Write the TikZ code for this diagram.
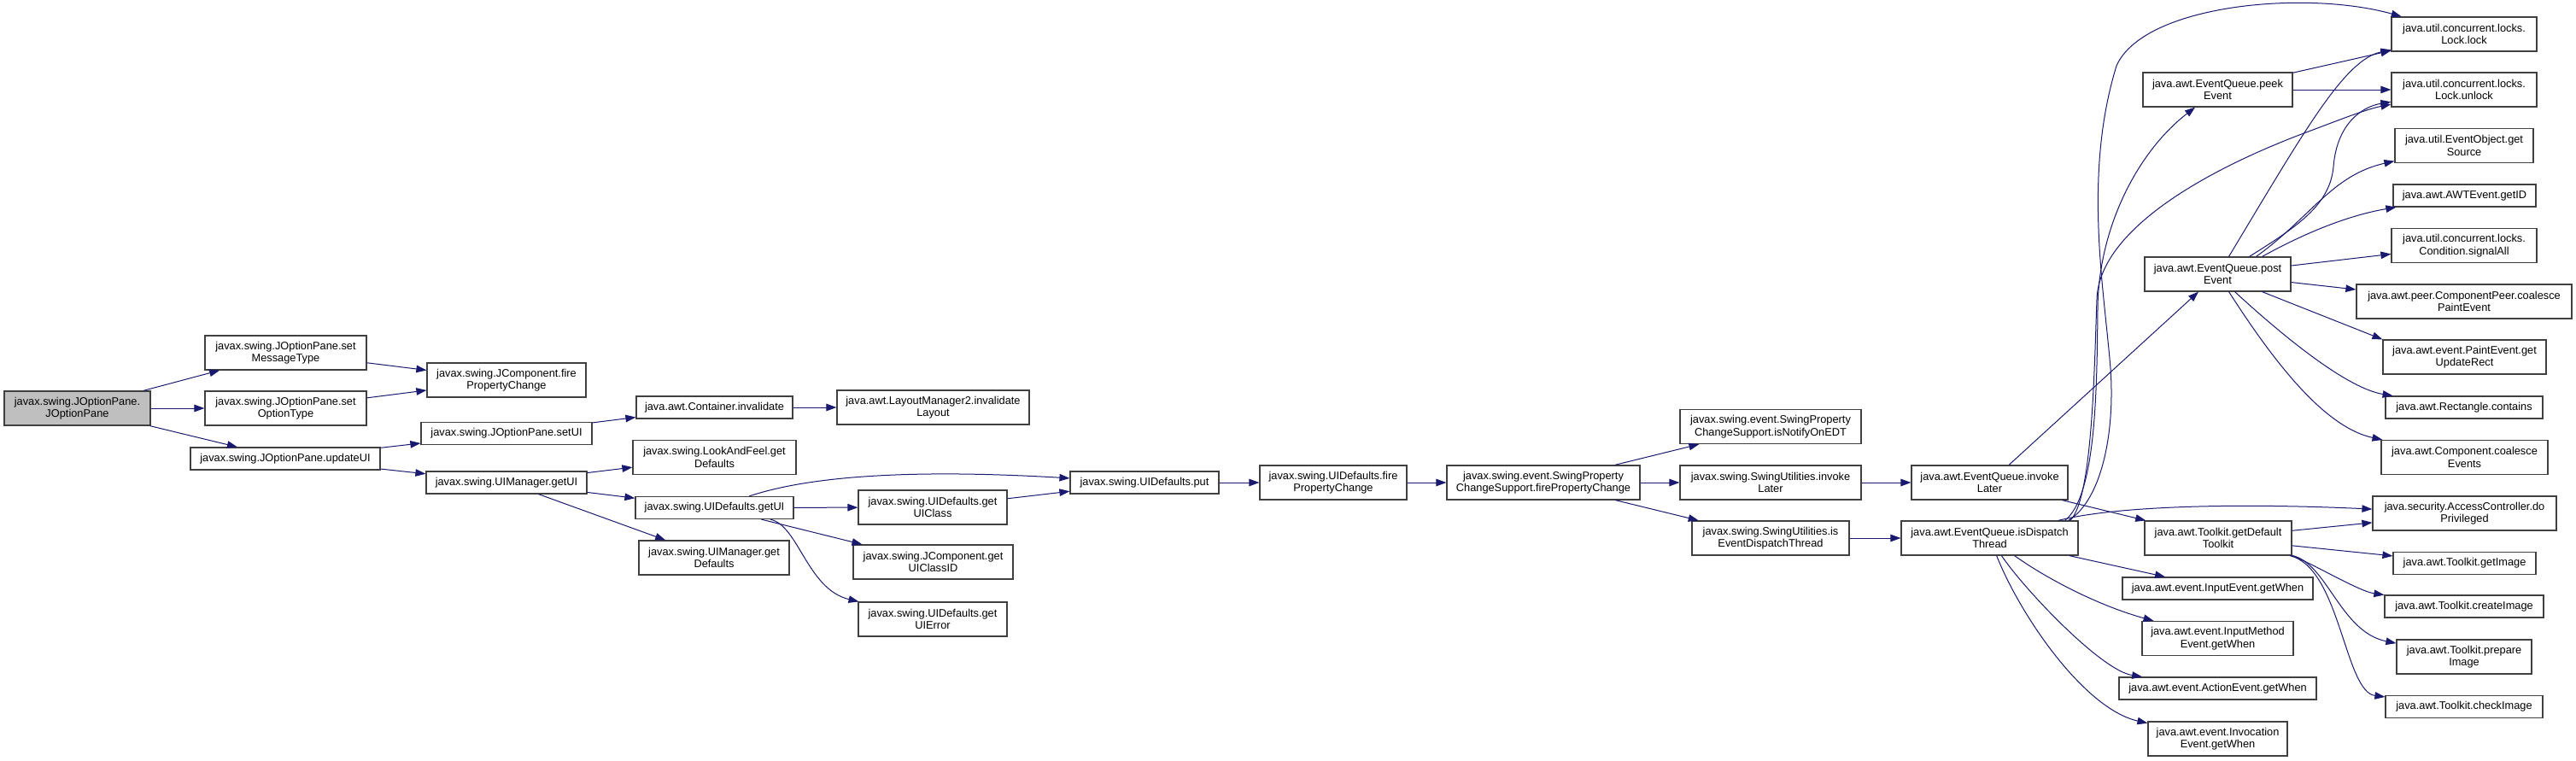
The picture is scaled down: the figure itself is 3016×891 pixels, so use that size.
\documentclass[tikz,border=0pt]{standalone}
\usepackage{fontspec}
\setmainfont{Liberation Sans}
\usetikzlibrary{arrows.meta}
\definecolor{edgeblue}{HTML}{191970}
\definecolor{rootgray}{HTML}{BFBFBF}

\begin{document}
\begin{tikzpicture}[x=1pt, y=-1pt,
		fn/.style={draw=black!75, line width=1.2pt, fill=white, align=center, inner sep=0pt,
			minimum height=26pt, font=\fontsize{12.8}{14.5}\selectfont},
		fnii/.style={fn, minimum height=40pt},
		call/.style={draw=edgeblue, line width=1pt, -{Triangle[length=12pt, width=8.5pt]}}]
		\useasboundingbox (0,0) rectangle (3016,891);
		\fill[white] (0,0) rectangle (3016,891);
		\node[fnii, fill=rootgray, minimum width=171pt] (root) at (90.5,478) {javax.swing.JOptionPane.\\JOptionPane};
		\node[fnii, minimum width=189pt] (msgtype)  at (334.5,413) {javax.swing.JOptionPane.set\\MessageType};
		\node[fnii, minimum width=189pt] (opttype)  at (334.5,478) {javax.swing.JOptionPane.set\\OptionType};
		\node[fn,   minimum width=222pt] (updui)    at (334,537)   {javax.swing.JOptionPane.updateUI};
		\node[fnii, minimum width=186pt] (jcfire)   at (593,445)   {javax.swing.JComponent.fire\\PropertyChange};
		\node[fn,   minimum width=200pt] (setui)    at (593,507.5) {javax.swing.JOptionPane.setUI};
		\node[fn,   minimum width=188pt] (uimgetui) at (593,565)   {javax.swing.UIManager.getUI};
		\node[fn,   minimum width=183pt] (continv)  at (836.5,477) {java.awt.Container.invalidate};
		\node[fnii, minimum width=225pt] (layoutinv) at (1092.5,477) {java.awt.LayoutManager2.invalidate\\Layout};
		\node[fnii, minimum width=191pt] (lafdef)   at (836.5,535.5) {javax.swing.LookAndFeel.get\\Defaults};
		\node[fn,   minimum width=185pt] (uidgetui) at (836.5,594.5) {javax.swing.UIDefaults.getUI};
		\node[fnii, minimum width=176pt] (uimdef)   at (836,653)   {javax.swing.UIManager.get\\Defaults};
		\node[fnii, minimum width=174pt] (getuiclass)   at (1092,594)   {javax.swing.UIDefaults.get\\UIClass};
		\node[fnii, minimum width=187pt] (getuiclassid) at (1092.5,658) {javax.swing.JComponent.get\\UIClassID};
		\node[fnii, minimum width=174pt] (getuierror)   at (1092,725)   {javax.swing.UIDefaults.get\\UIError};
		\node[fn,   minimum width=174pt] (put)      at (1340,565)  {javax.swing.UIDefaults.put};
		\node[fnii, minimum width=172pt] (uidfire)  at (1561,565)  {javax.swing.UIDefaults.fire\\PropertyChange};
		\node[fnii, minimum width=226pt] (spcsfire) at (1807,565)  {javax.swing.event.SwingProperty\\ChangeSupport.firePropertyChange};
		\node[fnii, minimum width=212pt] (notifyedt) at (2073,499.5) {javax.swing.event.SwingProperty\\ChangeSupport.isNotifyOnEDT};
		\node[fnii, minimum width=212pt] (suinvoke) at (2073,565)  {javax.swing.SwingUtilities.invoke\\Later};
		\node[fnii, minimum width=184pt] (suisedt)  at (2073,630)  {javax.swing.SwingUtilities.is\\EventDispatchThread};
		\node[fnii, minimum width=183pt] (eqinvoke) at (2329.5,565) {java.awt.EventQueue.invoke\\Later};
		\node[fnii, minimum width=207pt] (eqisdt)   at (2329.5,630) {java.awt.EventQueue.isDispatch\\Thread};
		\node[fnii, minimum width=175pt] (peek)     at (2596.5,105) {java.awt.EventQueue.peek\\Event};
		\node[fnii, minimum width=171pt] (post)     at (2596.5,321) {java.awt.EventQueue.post\\Event};
		\node[fnii, minimum width=172pt] (deftk)    at (2597,630)   {java.awt.Toolkit.getDefault\\Toolkit};
		\node[fn,   minimum width=223pt] (inputwhen) at (2596.5,689) {java.awt.event.InputEvent.getWhen};
		\node[fnii, minimum width=177pt] (imwhen)   at (2596.5,747.5) {java.awt.event.InputMethod\\Event.getWhen};
		\node[fn,   minimum width=231pt] (actwhen)  at (2596.5,806) {java.awt.event.ActionEvent.getWhen};
		\node[fnii, minimum width=163pt] (invwhen)  at (2596.5,865) {java.awt.event.Invocation\\Event.getWhen};
		\node[fnii, minimum width=170pt] (lock)     at (2885,40)    {java.util.concurrent.locks.\\Lock.lock};
		\node[fnii, minimum width=170pt] (unlock)   at (2885,105)   {java.util.concurrent.locks.\\Lock.unlock};
		\node[fnii, minimum width=162pt] (getsource) at (2885,170.5) {java.util.EventObject.get\\Source};
		\node[fn,   minimum width=167pt] (getid)    at (2885.5,229) {java.awt.AWTEvent.getID};
		\node[fnii, minimum width=170pt] (signalall) at (2885,287.5) {java.util.concurrent.locks.\\Condition.signalAll};
		\node[fnii, minimum width=252pt] (coalpaint) at (2885,353)  {java.awt.peer.ComponentPeer.coalesce\\PaintEvent};
		\node[fnii, minimum width=191pt] (updrect)  at (2885.5,418) {java.awt.event.PaintEvent.get\\UpdateRect};
		\node[fn,   minimum width=184pt] (contains) at (2885,477)   {java.awt.Rectangle.contains};
		\node[fnii, minimum width=195pt] (coalev)   at (2885.5,535.5) {java.awt.Component.coalesce\\Events};
		\node[fnii, minimum width=215pt] (doprivileged) at (2885.5,601) {java.security.AccessController.do\\Privileged};
		\node[fn,   minimum width=167pt] (getimage) at (2885.5,659.5) {java.awt.Toolkit.getImage};
		\node[fn,   minimum width=186pt] (createimage) at (2885,710) {java.awt.Toolkit.createImage};
		\node[fnii, minimum width=158pt] (prepareimage) at (2885,769) {java.awt.Toolkit.prepare\\Image};
		\node[fn,   minimum width=184pt] (checkimage) at (2885,827.5) {java.awt.Toolkit.checkImage};
		\draw[call] (root) -- (msgtype);
		\draw[call] (root) -- (opttype);
		\draw[call] (root) -- (updui);
		\draw[call] (msgtype) -- (jcfire);
		\draw[call] (opttype) -- (jcfire);
		\draw[call] (updui) -- (setui);
		\draw[call] (updui) -- (uimgetui);
		\draw[call] (setui) -- (continv);
		\draw[call] (continv) -- (layoutinv);
		\draw[call] (uimgetui) -- (lafdef);
		\draw[call] (uimgetui) -- (uidgetui);
		\draw[call] (uimgetui) -- (uimdef);
		\draw[call] (uidgetui) .. controls (940,560) and (1050,548) .. (put);
		\draw[call] (uidgetui) -- (getuiclass);
		\draw[call] (uidgetui) -- (getuiclassid);
		\draw[call] (uidgetui) .. controls (935,615) and (945,690) .. (getuierror);
		\draw[call] (getuiclass) -- (put);
		\draw[call] (put) -- (uidfire);
		\draw[call] (uidfire) -- (spcsfire);
		\draw[call] (spcsfire) -- (notifyedt);
		\draw[call] (spcsfire) -- (suinvoke);
		\draw[call] (spcsfire) -- (suisedt);
		\draw[call] (suinvoke) -- (eqinvoke);
		\draw[call] (suisedt) -- (eqisdt);
		\draw[call] (eqinvoke) -- (post);
		\draw[call] (eqinvoke) -- (deftk);
		\draw[call] ([xshift=-12pt]eqisdt.north east) .. controls (2462,585) and (2478,500) .. (2470,420)
			.. controls (2462,330) and (2440,200) .. (2478,77) .. controls (2510,5) and (2700,-12) .. (lock);
		\draw[call] ([xshift=-16pt]eqisdt.north east) .. controls (2455,580) and (2455,450) .. (2456,360)
			.. controls (2457,270) and (2500,180) .. (peek);
		\draw[call] ([xshift=-10pt]eqisdt.north east) .. controls (2450,585) and (2452,430) .. (2455,350)
			.. controls (2458,270) and (2580,200) .. (2700,155) .. controls (2740,140) and (2770,128) .. (unlock);
		\draw[call] (eqisdt) .. controls (2470,594) and (2600,588) .. (doprivileged);
		\draw[call] (eqisdt) -- (inputwhen);
		\draw[call] (eqisdt) .. controls (2400,680) and (2460,710) .. (imwhen);
		\draw[call] (eqisdt) .. controls (2370,690) and (2460,785) .. (actwhen);
		\draw[call] (eqisdt) .. controls (2365,720) and (2440,830) .. (invwhen);
		\draw[call] (peek) -- (lock);
		\draw[call] (peek) -- (unlock);
		\draw[call] ([xshift=13pt]post.north) .. controls (2700,150) and (2745,70) .. (lock);
		\draw[call] ([xshift=37pt]post.north) .. controls (2690,265) and (2728,240) .. (2732,195)
			.. controls (2736,145) and (2765,125) .. (unlock);
		\draw[call] ([xshift=45pt]post.north) .. controls (2705,255) and (2730,205) .. (getsource);
		\draw[call] ([xshift=52pt]post.north) .. controls (2700,272) and (2750,252) .. (getid);
		\draw[call] (post) -- (signalall);
		\draw[call] (post) -- (coalpaint);
		\draw[call] (post) -- (updrect.north west);
		\draw[call] ([xshift=20pt]post.south) .. controls (2680,400) and (2750,455) .. (contains);
		\draw[call] ([xshift=13pt]post.south) .. controls (2660,420) and (2720,500) .. (coalev);
		\draw[call] (deftk) -- (doprivileged);
		\draw[call] (deftk) -- (getimage);
		\draw[call] (deftk) .. controls (2700,655) and (2760,692) .. (createimage);
		\draw[call] (deftk) .. controls (2725,660) and (2740,740) .. (prepareimage);
		\draw[call] (deftk) .. controls (2740,665) and (2745,810) .. (checkimage);
	\end{tikzpicture}
\end{document}
